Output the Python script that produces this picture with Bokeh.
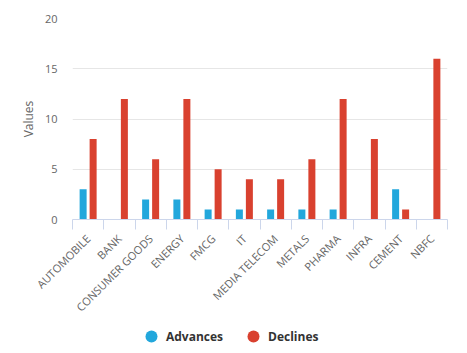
import math
from bokeh.plotting import figure
from bokeh.layouts import column
from bokeh.models import (Range1d, FixedTicker, ColumnDataSource, Legend, LegendItem)
from bokeh.transform import dodge
from bokeh.embed import file_html
from bokeh.resources import INLINE

categories = ["AUTOMOBILE", "BANK", "CONSUMER GOODS", "ENERGY", "FMCG", "IT",
              "MEDIA TELECOM", "METALS", "PHARMA", "INFRA", "CEMENT", "NBFC"]
advances = [3, 0, 2, 2, 1, 1, 1, 1, 1, 0, 3, 0]
declines = [8, 12, 6, 12, 5, 4, 4, 6, 12, 8, 1, 16]
series_names = ["Advances", "Declines"]
y_ticks = [0, 5, 10, 15, 20]

BLUE = "#22a7dc"
RED = "#d9412f"
FONT = "Open Sans"

n = len(categories)
centers = [i + 0.5 for i in range(n)]
src = ColumnDataSource(dict(x=centers, cat=categories, adv=advances, dec=declines))

p = figure(frame_width=375, frame_height=201, output_backend="svg", toolbar_location=None,
           x_range=Range1d(0, n), y_range=Range1d(0, 20),
           min_border_left=72, min_border_right=20,
           min_border_top=18, min_border_bottom=108)
p.outline_line_color = None
p.background_fill_color = "white"
p.border_fill_color = "white"

p.vbar(x=dodge("x", -0.16), top="adv", width=0.224,
       source=src, fill_color=BLUE, line_color=None)
p.vbar(x=dodge("x", 0.16), top="dec", width=0.224,
       source=src, fill_color=RED, line_color=None)

# y axis
yaxis = p.yaxis[0]
yaxis.ticker = FixedTicker(ticks=y_ticks)
yaxis.axis_line_color = None
yaxis.major_tick_line_color = None
yaxis.major_tick_out = 0
yaxis.major_tick_in = 0
yaxis.minor_tick_line_color = None
yaxis.major_label_standoff = 15
yaxis.major_label_text_font = FONT
yaxis.major_label_text_font_size = "11px"
yaxis.major_label_text_color = "#666666"
yaxis.axis_label = "Values"
yaxis.axis_label_text_font = FONT
yaxis.axis_label_text_font_size = "12px"
yaxis.axis_label_text_font_style = "normal"
yaxis.axis_label_text_color = "#666666"
yaxis.axis_label_standoff = 5
p.ygrid.grid_line_color = "#e6e6e6"
p.ygrid.ticker = FixedTicker(ticks=y_ticks)
p.xgrid.grid_line_color = None

# x axis: labels at category centres, tick marks at category boundaries
xaxis = p.xaxis[0]
xaxis.ticker = FixedTicker(ticks=centers, minor_ticks=list(range(n + 1)))
xaxis.major_label_overrides = {c: lab for c, lab in zip(centers, categories)}
xaxis.axis_line_color = "#ccd6eb"
xaxis.major_tick_line_color = None
xaxis.major_tick_out = 0
xaxis.major_tick_in = 0
xaxis.minor_tick_line_color = "#ccd6eb"
xaxis.minor_tick_out = 10
xaxis.minor_tick_in = 0
xaxis.major_label_orientation = math.pi / 4
xaxis.major_label_standoff = 7
xaxis.major_label_text_font = FONT
xaxis.major_label_text_font_size = "11px"
xaxis.major_label_text_color = "#666666"

# legend strip below the chart
lg = figure(width=467, height=26, output_backend="svg", toolbar_location=None,
            x_axis_location=None, y_axis_location=None, min_border=0,
            x_range=Range1d(0, 1), y_range=Range1d(0, 1))
lg.outline_line_color = None
lg.xgrid.visible = False
lg.ygrid.visible = False
la = lg.scatter(x=[-10], y=[-10], marker="circle", fill_color=BLUE, line_color=None)
ld = lg.scatter(x=[-10], y=[-10], marker="circle", fill_color=RED, line_color=None)
legend = Legend(items=[LegendItem(label=series_names[0], renderers=[la]),
                       LegendItem(label=series_names[1], renderers=[ld])],
                orientation="horizontal", location=(64, 2),
                glyph_width=30, glyph_height=30, label_standoff=0, spacing=15,
                padding=0, margin=0, border_line_color=None, background_fill_alpha=0,
                label_text_font=FONT, label_text_font_size="12px",
                label_text_font_style="bold", label_text_color="#333333",
                label_height=30)
lg.add_layout(legend, "center")

layout = column(p, lg, spacing=0)
open("out.html", "w").write(file_html(layout, INLINE))
